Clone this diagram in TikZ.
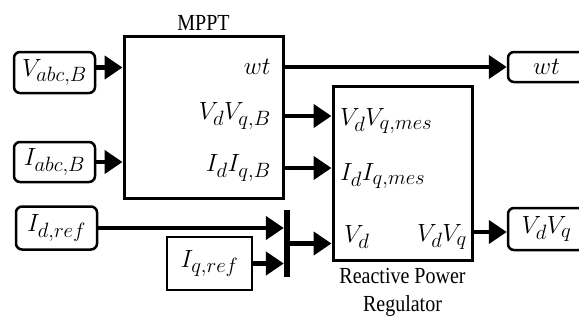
\documentclass[tikz,border=0pt]{standalone}
\usepackage{fontspec}
\setmainfont[FakeStretch=0.87]{Liberation Serif}
\DeclareMathSizes{24.88}{24.88}{20.74}{14.4}
\usetikzlibrary{arrows.meta,positioning}

\begin{document}
\begin{tikzpicture}[
      x=1pt, y=-1pt,
      font=\fontsize{23}{28}\selectfont,
      blk/.style={draw, line width=3pt, inner sep=0pt},
      io/.style={draw, line width=2.5pt, rounded corners=6pt, minimum width=81pt, inner sep=0pt, font=\fontsize{24.88}{28}\selectfont},
      src/.style={io, rounded corners=0pt},
      outp/.style={io, minimum width=77pt},
      port/.style={inner sep=1pt, font=\fontsize{24.88}{28}\selectfont},
      ar/.style={line width=4.5pt, -{Triangle[length=18pt, width=23pt]}}]
    \useasboundingbox (0,0) rectangle (579,324);
    % blocks
    \node[blk, minimum width=159pt, minimum height=162pt] (mppt) at (203.5,117) {};
    \node[blk, minimum width=139pt, minimum height=174pt] (rpr)  at (402.5,173) {};
    \node[above=0pt of mppt] (mpptlbl) {MPPT};
    \node[below=3pt of rpr, align=center] (rprlbl) {Reactive Power\\Regulator};
    % inputs and outputs
    \node[io, minimum height=41pt]   (vabc)  at (54.5,72.5) {$V_{abc,B}$};
    \node[io, minimum height=40pt]   (iabc)  at (54.5,162)  {$I_{abc,B}$};
    \node[io, minimum height=43pt]   (idref) at (56.5,228)  {$I_{d,ref}$};
    \node[src, minimum width=85pt, minimum height=53pt] (iqref) at (209.5,263.5) {$I_{q,ref}$};
    \node[outp, minimum height=30pt] (wtout)   at (546.5,67)  {$wt$};
    \node[outp, minimum height=42pt] (vdvqout) at (546.5,229) {$V_dV_q$};
    \node[fill, minimum width=6pt, minimum height=67pt, inner sep=0pt] (bar) at (287,243.5) {};
    % ports
    \node[port, anchor=east] (wtb)     at (272,67)  {$wt$};
    \node[port, anchor=east] (vdvqb)   at (272,116) {$V_dV_{q,B}$};
    \node[port, anchor=east] (idiqb)   at (272,168) {$I_dI_{q,B}$};
    \node[port, anchor=west] (vdvqmes) at (339,121) {$V_dV_{q,mes}$};
    \node[port, anchor=west] (idiqmes) at (339,176) {$I_dI_{q,mes}$};
    \node[port, anchor=west] (vdin)    at (343,237) {$V_d$};
    \node[port, anchor=east] (vdvqo)   at (468,237) {$V_dV_q$};
    % connectors
    \draw[ar] ([yshift=5pt]vabc.east) -- ([yshift=5pt]vabc.east -| mppt.west);
    \draw[ar] (iabc.east) -- (iabc.east -| mppt.west);
    \draw[ar] (wtout.west -| mppt.east) -- (wtout.west);
    \draw[ar] (mppt.east |- vdvqb) -- (rpr.west |- vdvqb);
    \draw[ar] (mppt.east |- idiqb) -- (rpr.west |- idiqb);
    \draw[ar] (idref.east) -- (idref.east -| bar.west);
    \draw[ar] (iqref.east) -- (iqref.east -| bar.west);
    \draw[ar] (bar.east) -- (bar.east -| rpr.west);
    \draw[ar] ([yshift=-3pt]vdvqout.west -| rpr.east) -- ([yshift=-3pt]vdvqout.west);
  \end{tikzpicture}
\end{document}
